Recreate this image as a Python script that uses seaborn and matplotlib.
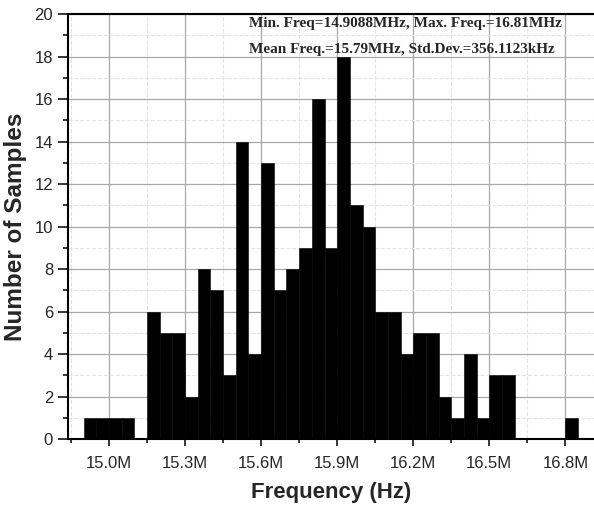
import matplotlib
matplotlib.use('Agg')
import matplotlib.pyplot as plt
import matplotlib.ticker as mt
import seaborn as sns
import numpy as np
import pandas as pd

# histogram: bins of 0.05 MHz starting at 14.90 MHz
bin_start = 14.90  # MHz
bin_width = 0.05  # MHz
counts = [1, 1, 1, 1, 0, 6, 5, 5, 2, 8, 7, 3, 14, 4, 13, 7, 8, 9, 16, 9,
          18, 11, 10, 6, 6, 4, 5, 5, 2, 1, 4, 1, 3, 3, 0, 0, 0, 0, 1]
x_ticks = [15.0, 15.3, 15.6, 15.9, 16.2, 16.5, 16.8]
y_ticks = [0, 2, 4, 6, 8, 10, 12, 14, 16, 18, 20]
stats_lines = ['Min. Freq=14.9088MHz, Max. Freq.=16.81MHz',
               'Mean Freq.=15.79MHz, Std.Dev.=356.1123kHz']

edges = bin_start + bin_width * np.arange(len(counts) + 1)  # bin edges
df = pd.DataFrame({'freq': edges[:-1] + bin_width / 2, 'n': counts})

sns.set_style('white')
plt.rcParams['font.family'] = ['Liberation Sans', 'DejaVu Sans']

fig = plt.figure(figsize=(5.94, 5.09), dpi=100)
ax = fig.add_axes([0.115, 0.137, 0.885, 0.8355])

sns.histplot(data=df, x='freq', weights='n', binwidth=bin_width,
             binrange=(edges[0], edges[-1]), color='black', alpha=1,
             edgecolor='black', linewidth=0.4, ax=ax, zorder=3)

ax.set_xlim(14.8394, 16.913)
ax.set_ylim(0, 20)
ax.set_xticks(x_ticks)
ax.xaxis.set_minor_locator(mt.MultipleLocator(0.15))
ax.set_yticks(y_ticks)
ax.yaxis.set_minor_locator(mt.MultipleLocator(1))
ax.xaxis.set_major_formatter(mt.FuncFormatter(lambda v, p: f'{v:.1f}M'))

ax.grid(which='major', color='#a8a8a8', lw=0.9, zorder=0)
ax.grid(which='minor', color='#e4e4e4', lw=0.8, ls='--', zorder=0)
ax.set_axisbelow(True)

for s in ['left', 'bottom', 'top']:
    ax.spines[s].set_linewidth(1.5)
    ax.spines[s].set_color('black')
ax.spines['right'].set_visible(False)

ax.tick_params(axis='y', which='major', direction='out', length=7, width=1.3, labelsize=12, pad=4, left=True)
ax.tick_params(axis='y', which='minor', direction='out', length=3.5, width=1.3, left=True)
ax.tick_params(axis='x', which='major', direction='out', length=5, width=1.3, labelsize=12, pad=7, bottom=True)
ax.tick_params(axis='x', which='minor', direction='out', length=3, width=1.3, bottom=True)

ax.set_xlabel('Frequency (Hz)', fontsize=16, fontweight='bold', labelpad=8)
ax.set_ylabel('Number of Samples', fontsize=17.5, fontweight='bold', labelpad=5)

ax.text(0.3437, 0.9765, stats_lines[0], transform=ax.transAxes, fontsize=11,
        fontweight='bold', family=['Liberation Serif', 'DejaVu Serif'], va='center', ha='left', zorder=5)
ax.text(0.3437, 0.9154, stats_lines[1], transform=ax.transAxes, fontsize=11,
        fontweight='bold', family=['Liberation Serif', 'DejaVu Serif'], va='center', ha='left', zorder=5)

fig.savefig('out.png', dpi=100)
plt.close(fig)
